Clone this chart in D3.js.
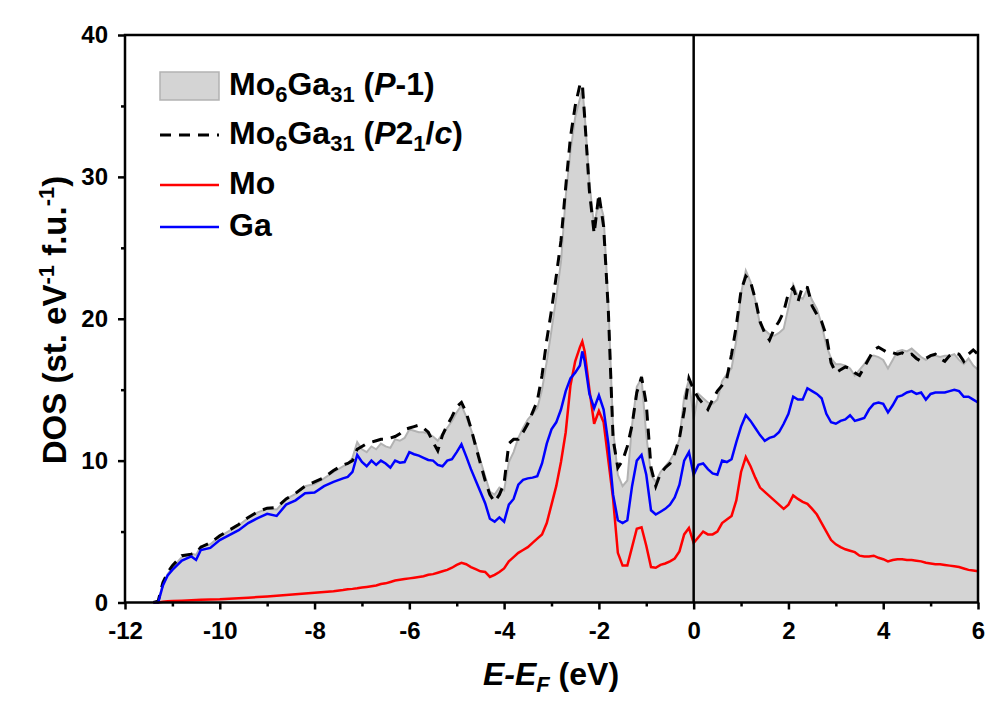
<!DOCTYPE html>
<html>
<head>
<meta charset="utf-8">
<script src="https://cdn.jsdelivr.net/npm/d3@7"></script>
<style>
  body { margin: 0; background: #fff; }
  text { font-family: Arial, "Liberation Sans", sans-serif; font-weight: bold; fill: #000; }
</style>
</head>
<body>
<div class="dos-chart"></div>
<script>
// energy grid (eV), shared by all series
const energy = [
  -11.4, -11.3, -11.2, -11.1, -11.0, -10.8, -10.6, -10.5, -10.4, -10.2, -10.0, -9.8, -9.6, -9.4,
  -9.2, -9.0, -8.8, -8.6, -8.4, -8.2, -8.0, -7.8, -7.6, -7.4, -7.3, -7.2, -7.1,
  -7.0, -6.9, -6.8, -6.7, -6.6, -6.5, -6.4, -6.3, -6.2, -6.1,
  -6.0, -5.9, -5.8, -5.7, -5.6, -5.5, -5.4, -5.3, -5.2, -5.1,
  -5.0, -4.9, -4.8, -4.7, -4.6, -4.5, -4.4, -4.3, -4.2, -4.1,
  -4.0, -3.9, -3.8, -3.7, -3.6, -3.5, -3.4, -3.3, -3.2, -3.1,
  -3.0, -2.9, -2.8, -2.7, -2.6, -2.5, -2.4, -2.35,
  -2.3, -2.2, -2.1, -2.0, -1.9, -1.8, -1.7, -1.6, -1.5, -1.4,
  -1.3, -1.2, -1.1, -1.0, -0.9, -0.8, -0.7, -0.6, -0.5, -0.4,
  -0.3, -0.2, -0.1, 0.0, 0.1, 0.2, 0.3, 0.4, 0.5, 0.6,
  0.7, 0.8, 0.9, 1.0, 1.1, 1.2, 1.3, 1.4, 1.5, 1.6,
  1.7, 1.8, 1.9, 2.0, 2.1, 2.2, 2.3, 2.4, 2.5, 2.6,
  2.7, 2.8, 2.9, 3.0, 3.1, 3.2, 3.3, 3.4, 3.5, 3.6,
  3.7, 3.8, 3.9, 4.0, 4.1, 4.2, 4.3, 4.4, 4.5, 4.6,
  4.7, 4.8, 4.9, 5.0, 5.1, 5.2, 5.3, 5.4, 5.5, 5.6,
  5.7, 5.8, 5.9, 6.0
];

// total DOS, Mo6Ga31 (P-1)
const dosP1 = [
  0, 0.1, 1.3, 2.0, 2.45, 3.2, 3.45, 3.35, 3.95, 4.1, 4.65, 5.05, 5.45, 5.95,
  6.35, 6.6, 6.55, 7.3, 7.65, 8.2, 8.35, 8.75, 9.2, 9.6, 9.75, 10.2, 11.3,
  10.8, 10.6, 11.0, 10.8, 11.2, 11.0, 10.9, 11.5, 11.4, 11.6,
  12.2, 12.1, 12.0, 12.0, 11.9, 11.7, 11.4, 11.9, 12.3, 12.8,
  13.4, 13.9, 13.1, 12.2, 11.2, 10.0, 8.9, 7.8, 7.6, 8.1,
  7.9, 9.9, 10.6, 11.6, 12.3, 12.9, 13.3, 13.7, 15.0, 17.0,
  19.2, 21.5, 24.0, 28.6, 31.8, 34.2, 35.5, 36.3,
  34.4, 29.6, 26.5, 28.5, 27.2, 21.0, 12.2, 9.0, 8.2, 8.6,
  12.5, 15.2, 15.8, 11.8, 9.0, 8.5, 9.2, 9.6, 10.0, 10.6,
  11.5, 14.5, 15.7, 12.9, 14.7, 14.4, 14.1, 14.0, 14.3, 15.6,
  16.1, 16.5, 18.5, 21.8, 23.4, 22.6, 21.3, 19.6, 19.2, 18.9,
  18.8, 19.0, 19.3, 20.8, 22.4, 21.6, 21.4, 22.1, 21.3, 20.7,
  19.6, 18.1, 17.2, 16.8, 16.8, 16.7, 16.5, 16.0, 16.4, 16.8,
  17.3, 17.4, 17.3, 17.1, 16.5, 17.1, 17.7, 17.8, 17.7, 17.9,
  17.6, 17.3, 17.1, 17.4, 17.4, 17.3, 17.4, 17.4, 17.5, 17.1,
  16.8, 17.2, 16.7, 16.4
];

// total DOS, Mo6Ga31 (P2_1/c)
const dosP21c = [
  0, 0.1, 1.4, 2.1, 2.6, 3.3, 3.4, 3.5, 3.9, 4.2, 4.7, 5.1, 5.5, 6.0,
  6.4, 6.65, 6.7, 7.3, 7.7, 8.2, 8.5, 8.8, 9.3, 9.7, 9.8, 10.0, 10.8,
  11.0, 11.2, 11.3, 11.4, 11.5, 11.5, 11.6, 11.7, 11.9, 12.2,
  12.3, 12.4, 12.5, 12.3, 12.0, 11.3, 10.7, 11.8, 12.5, 13.1,
  13.8, 14.1, 13.4, 12.3, 11.0, 9.8, 8.6, 7.6, 7.1, 7.6,
  8.4, 11.2, 11.5, 11.5, 12.0, 12.6, 13.4, 14.2, 16.0, 18.5,
  20.6, 23.0, 25.5, 29.3, 32.8, 35.0, 36.5, 36.6,
  34.2, 29.0, 26.0, 28.8, 26.5, 20.5, 11.5, 9.5, 10.0, 11.0,
  12.5, 14.8, 15.9, 14.0, 9.5, 8.2, 9.1, 9.5, 9.8, 10.5,
  11.6, 13.5, 15.8, 15.0, 14.4, 14.0, 13.6, 14.3, 14.9, 15.3,
  15.8, 17.5, 19.5, 22.0, 23.0, 22.6, 21.4, 19.8, 19.0, 18.5,
  19.3, 19.8, 20.5, 21.8, 22.2, 21.2, 22.3, 22.2, 20.9, 20.3,
  19.8, 18.8, 16.9, 16.2, 16.4, 16.6, 16.5, 16.2, 16.0, 16.6,
  17.2, 17.8, 18.0, 17.8, 17.6, 17.6, 17.5, 17.6, 17.4, 17.5,
  17.2, 17.0, 17.2, 17.4, 17.5, 17.2, 17.0, 17.4, 17.6, 17.5,
  17.0, 17.5, 17.8, 17.5
];

// partial DOS, Mo
const dosMo = [
  0, 0, 0.05, 0.08, 0.1, 0.13, 0.16, 0.18, 0.19, 0.21, 0.23, 0.27, 0.3, 0.34,
  0.38, 0.43, 0.48, 0.53, 0.58, 0.63, 0.68, 0.74, 0.8, 0.88, 0.93, 0.96, 1.0,
  1.05, 1.1, 1.15, 1.2, 1.3, 1.35, 1.45, 1.55, 1.6, 1.65,
  1.7, 1.75, 1.8, 1.85, 1.95, 2.0, 2.1, 2.2, 2.3, 2.45,
  2.65, 2.8, 2.7, 2.5, 2.35, 2.2, 2.15, 1.8, 1.95, 2.15,
  2.4, 2.9, 3.2, 3.5, 3.7, 3.9, 4.2, 4.5, 4.8, 5.6,
  6.9, 8.2, 9.9, 12.0, 15.3, 17.0, 18.0, 18.4,
  17.7, 15.0, 12.6, 13.5, 12.7, 10.0, 7.3, 3.5, 2.6, 2.6,
  3.9, 5.2, 5.3, 4.0, 2.5, 2.45, 2.65, 2.75, 2.9, 3.1,
  3.6, 4.8, 5.25, 4.2, 4.6, 5.0, 4.8, 4.8, 5.0, 5.6,
  5.85, 6.1, 7.2, 9.2, 10.25, 9.6, 8.8, 8.1, 7.8, 7.5,
  7.2, 6.9, 6.6, 6.9, 7.55, 7.3, 7.1, 6.95, 6.6, 6.2,
  5.6, 5.0, 4.4, 4.1, 3.9, 3.75, 3.65, 3.55, 3.3, 3.25,
  3.25, 3.3, 3.15, 3.05, 2.9, 3.0, 3.05, 3.05, 3.0, 3.0,
  2.95, 2.9, 2.8, 2.75, 2.7, 2.7, 2.65, 2.6, 2.55, 2.5,
  2.4, 2.3, 2.25, 2.2
];

// partial DOS, Ga
const dosGa = [
  0, 0, 1.2, 1.9, 2.3, 2.95, 3.25, 3.0, 3.7, 3.85, 4.4, 4.75, 5.1, 5.6,
  5.95, 6.25, 6.1, 6.9, 7.2, 7.7, 7.75, 8.2, 8.5, 8.75, 8.85, 9.2, 10.4,
  9.9, 9.6, 10.0, 9.7, 10.0, 9.8, 9.5, 10.0, 9.85, 9.9,
  10.6, 10.45, 10.35, 10.2, 10.05, 10.0, 9.7, 9.6, 10.0, 10.1,
  10.6, 11.15, 10.3, 9.4, 8.6, 7.8, 7.0, 5.9, 5.7, 6.0,
  5.7, 6.9, 7.3, 8.3, 8.65, 8.75, 8.8, 8.9, 9.8, 11.2,
  12.2, 12.7, 13.6, 14.9, 15.8, 16.2, 16.7, 17.7,
  17.0, 14.7, 13.7, 14.6, 13.6, 11.2, 7.6, 5.8, 5.6, 5.8,
  8.2, 10.0, 10.4, 9.0, 6.5, 6.2, 6.4, 6.6, 6.9, 7.4,
  8.3, 10.0, 10.6, 9.0, 9.7, 9.8, 9.4, 9.1, 9.0, 10.0,
  9.9, 10.1, 11.3, 12.4, 13.2, 12.8, 12.3, 11.8, 11.4, 11.6,
  11.7, 12.0, 12.6, 13.3, 14.5, 14.3, 14.3, 15.1, 14.9, 14.7,
  14.4, 13.3, 12.7, 12.6, 12.8, 12.9, 13.2, 12.8, 12.9, 13.0,
  13.6, 14.0, 14.1, 14.0, 13.4, 13.9, 14.5, 14.6, 14.8, 14.9,
  14.7, 14.8, 14.3, 14.7, 14.8, 14.8, 14.8, 14.9, 15.0, 14.9,
  14.5, 14.5, 14.3, 14.1
];

const xTicks = [-12, -10, -8, -6, -4, -2, 0, 2, 4, 6];
const xMinor = [-11, -9, -7, -5, -3, -1, 1, 3, 5];
const yTicks = [0, 10, 20, 30, 40];
const yMinor = [5, 15, 25, 35];

const width = 1003;
const height = 709;
const plotLeft = 125, plotRight = 978, plotTop = 35, plotBottom = 602.5;

const svg = d3.select('.dos-chart')
    .append('svg')
    .attr('width', width)
    .attr('height', height);

const x = d3.scaleLinear().domain([-12, 6]).range([plotLeft, plotRight]);
const y = d3.scaleLinear().domain([0, 40]).range([plotBottom, plotTop]);

function pts(vals) {
    return energy.map((e, i) => [e, vals[i]]);
}

// filled total DOS (P-1)
svg.append('path')
    .datum(pts(dosP1))
    .attr('d', d3.area().x(d => x(d[0])).y0(y(0)).y1(d => y(d[1])))
    .attr('fill', '#d4d4d4');

const line = d3.line().x(d => x(d[0])).y(d => y(d[1]));

svg.append('path')
    .datum(pts(dosP1))
    .attr('d', line)
    .attr('fill', 'none')
    .attr('stroke', '#b2b2b2')
    .attr('stroke-width', 2);

svg.append('path')
    .datum(pts(dosP21c))
    .attr('d', line)
    .attr('fill', 'none')
    .attr('stroke', '#000')
    .attr('stroke-width', 3)
    .attr('stroke-dasharray', '11,8');

svg.append('path')
    .datum(pts(dosMo))
    .attr('d', line)
    .attr('fill', 'none')
    .attr('stroke', '#ff0000')
    .attr('stroke-width', 2.5);

svg.append('path')
    .datum(pts(dosGa))
    .attr('d', line)
    .attr('fill', 'none')
    .attr('stroke', '#0000ff')
    .attr('stroke-width', 2.5);

// Fermi level
svg.append('line')
    .attr('x1', x(0)).attr('x2', x(0))
    .attr('y1', y(40)).attr('y2', y(0))
    .attr('stroke', '#000')
    .attr('stroke-width', 2.5);

// axes
const plain = d => String(d);
const xAxis = svg.append('g')
    .attr('transform', `translate(0,${plotBottom})`)
    .call(d3.axisBottom(x).tickValues(xTicks).tickFormat(plain).tickSize(7).tickPadding(12));
const xAxisMinor = svg.append('g')
    .attr('transform', `translate(0,${plotBottom})`)
    .call(d3.axisBottom(x).tickValues(xMinor).tickSize(4).tickFormat(''));
const yAxis = svg.append('g')
    .attr('transform', `translate(${plotLeft},0)`)
    .call(d3.axisLeft(y).tickValues(yTicks).tickFormat(plain).tickSize(7).tickPadding(10));
const yAxisMinor = svg.append('g')
    .attr('transform', `translate(${plotLeft},0)`)
    .call(d3.axisLeft(y).tickValues(yMinor).tickSize(4).tickFormat(''));

[xAxis, xAxisMinor, yAxis, yAxisMinor].forEach(g => {
    g.select('.domain').remove();
    g.selectAll('line').attr('stroke', '#000').attr('stroke-width', 2.5);
    g.selectAll('text')
        .attr('font-size', 24)
        .attr('font-family', 'Arial, "Liberation Sans", sans-serif')
        .attr('font-weight', 'bold');
});

svg.append('rect')
    .attr('x', plotLeft).attr('y', plotTop)
    .attr('width', plotRight - plotLeft).attr('height', plotBottom - plotTop)
    .attr('fill', 'none')
    .attr('stroke', '#000')
    .attr('stroke-width', 2.5);

// axis titles
const xt = svg.append('text')
    .attr('x', 551).attr('y', 685)
    .attr('text-anchor', 'middle')
    .attr('font-size', 32);
xt.append('tspan').attr('font-style', 'italic').text('E-E');
xt.append('tspan').attr('font-style', 'italic').attr('font-size', 22).attr('dy', 7).text('F');
xt.append('tspan').attr('dy', -7).text(' (eV)');

const yt = svg.append('text')
    .attr('transform', 'translate(66,320) rotate(-90)')
    .attr('text-anchor', 'middle')
    .attr('font-size', 33);
yt.append('tspan').text('DOS (st. eV');
yt.append('tspan').attr('font-size', 22).attr('dy', -12).text('-1');
yt.append('tspan').attr('dy', 12).text(' f.u.');
yt.append('tspan').attr('font-size', 22).attr('dy', -12).text('-1');
yt.append('tspan').attr('dy', 12).text(')');

// legend
const lg = svg.append('g');
lg.append('rect')
    .attr('x', 160).attr('y', 72).attr('width', 59).attr('height', 28)
    .attr('fill', '#d4d4d4').attr('stroke', '#b2b2b2').attr('stroke-width', 1.5);
lg.append('line')
    .attr('x1', 160).attr('x2', 219).attr('y1', 135).attr('y2', 135)
    .attr('stroke', '#000').attr('stroke-width', 3).attr('stroke-dasharray', '11,8');
lg.append('line')
    .attr('x1', 160).attr('x2', 219).attr('y1', 185).attr('y2', 185)
    .attr('stroke', '#ff0000').attr('stroke-width', 2.5);
lg.append('line')
    .attr('x1', 160).attr('x2', 219).attr('y1', 227).attr('y2', 227)
    .attr('stroke', '#0000ff').attr('stroke-width', 2.5);

function formula(t) {
    t.append('tspan').text('Mo');
    t.append('tspan').attr('font-size', 22).attr('dy', 7).text('6');
    t.append('tspan').attr('dy', -7).text('Ga');
    t.append('tspan').attr('font-size', 22).attr('dy', 7).text('31');
    t.append('tspan').attr('dy', -7).text(' (');
}

const l1 = lg.append('text').attr('x', 229).attr('y', 95).attr('font-size', 32);
formula(l1);
l1.append('tspan').attr('font-style', 'italic').text('P');
l1.append('tspan').text('-1)');

const l2 = lg.append('text').attr('x', 229).attr('y', 144).attr('font-size', 32);
formula(l2);
l2.append('tspan').attr('font-style', 'italic').text('P');
l2.append('tspan').text('2');
l2.append('tspan').attr('font-size', 22).attr('dy', 7).text('1');
l2.append('tspan').attr('dy', -7).text('/');
l2.append('tspan').attr('font-style', 'italic').text('c');
l2.append('tspan').text(')');

lg.append('text').attr('x', 229).attr('y', 194).attr('font-size', 32).text('Mo');
lg.append('text').attr('x', 229).attr('y', 236).attr('font-size', 32).text('Ga');
</script>
</body>
</html>
